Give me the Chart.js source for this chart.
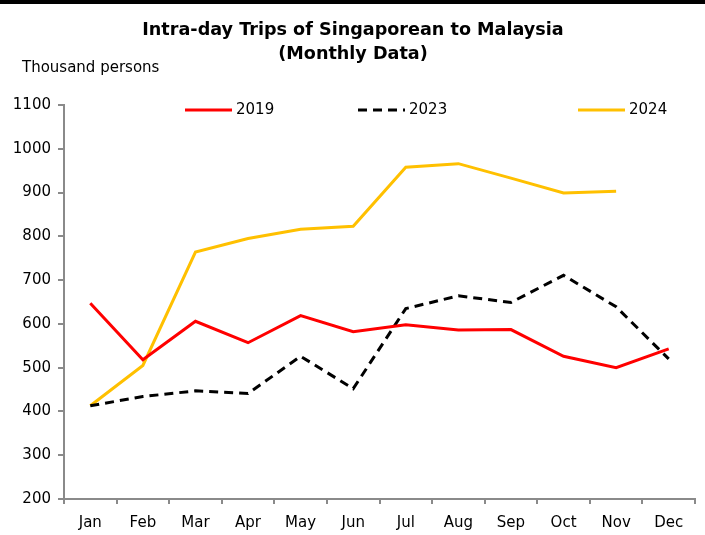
<!DOCTYPE html>
<html>
<head>
<meta charset="utf-8">
<script src="https://cdn.jsdelivr.net/npm/chart.js@4.4.0/dist/chart.umd.min.js"></script>
<style>
  html, body { margin: 0; padding: 0; background: #fff; }
  #wrap { position: relative; width: 705px; height: 535px; }
</style>
</head>
<body>
<div id="wrap"><canvas id="lineChart"></canvas></div>
<script>
// Intra-day trips of Singaporeans to Malaysia, thousand persons
const months = ['Jan', 'Feb', 'Mar', 'Apr', 'May', 'Jun', 'Jul', 'Aug', 'Sep', 'Oct', 'Nov', 'Dec'];
const trips2019 = [647, 518, 606, 557, 619, 582, 598, 586, 587, 526, 500, 543];
const trips2023 = [413, 434, 447, 441, 526, 452, 635, 664, 649, 711, 639, 520];
const trips2024 = [413, 505, 764, 795, 816, 823, 958, 966, 933, 899, 903, null];
const seriesNames = ['2019', '2023', '2024'];
const titleLines = ['Intra-day Trips of Singaporean to Malaysia', '(Monthly Data)'];
const unitLabel = 'Thousand persons';
const yMin = 200, yMax = 1100, yStep = 100;

const FONT = "'DejaVu Sans', Verdana, sans-serif";
const AXIS_GREY = '#8a8a8a';

// title, unit label, top rule and the spaced-out legend
const decorPlugin = {
  id: 'decor',
  afterDraw(chart) {
    const ctx = chart.ctx;
    ctx.save();
    // black rule across the top
    ctx.fillStyle = '#000';
    ctx.fillRect(0, 0, chart.width, 4);

    ctx.fillStyle = '#000';
    ctx.textAlign = 'center';
    ctx.textBaseline = 'middle';
    ctx.font = 'bold 17.6px ' + FONT;
    ctx.fillText(titleLines[0], 353, 30);
    ctx.fillText(titleLines[1], 353, 54);

    ctx.textAlign = 'left';
    ctx.font = '15px ' + FONT;
    ctx.fillText(unitLabel, 22, 68);

    // legend
    const startX = [185, 358, 578];
    chart.data.datasets.forEach((ds, i) => {
      const x = startX[i], y = 110;
      ctx.beginPath();
      ctx.strokeStyle = ds.borderColor;
      ctx.lineWidth = 3;
      ctx.setLineDash(ds.borderDash || []);
      ctx.moveTo(x, y);
      ctx.lineTo(x + 47, y);
      ctx.stroke();
      ctx.setLineDash([]);
      ctx.fillStyle = '#000';
      ctx.font = '15px ' + FONT;
      ctx.fillText(ds.label, x + 51, y);
    });
    ctx.restore();
  }
};

const ctx = document.getElementById('lineChart').getContext('2d');
const lineChart = new Chart(ctx, {
  type: 'line',
  data: {
    labels: months,
    datasets: [
      { label: seriesNames[0], data: trips2019, borderColor: '#ff0000', borderWidth: 3 },
      { label: seriesNames[1], data: trips2023, borderColor: '#000000', borderWidth: 3, borderDash: [9, 6] },
      { label: seriesNames[2], data: trips2024, borderColor: '#ffc000', borderWidth: 3 }
    ]
  },
  options: {
    responsive: true,
    maintainAspectRatio: false,
    animation: false,
    layout: { padding: { left: 0, top: 105, right: 10, bottom: 0 } },
    elements: {
      point: { radius: 0, hoverRadius: 0 },
      line: { tension: 0, fill: false, borderCapStyle: 'butt' }
    },
    plugins: {
      legend: { display: false },
      title: { display: false },
      tooltip: { enabled: false }
    },
    scales: {
      x: {
        offset: true,
        afterFit(scale) { scale.height = 36; },
        grid: {
          display: true,
          offset: true,
          drawOnChartArea: false,
          drawTicks: true,
          tickLength: 5,
          color: AXIS_GREY,
          lineWidth: 2
        },
        border: { display: true, color: AXIS_GREY, width: 2 },
        ticks: {
          color: '#000',
          padding: 10,
          maxRotation: 0,
          font: { family: FONT, size: 15 }
        }
      },
      y: {
        min: yMin,
        max: yMax,
        afterFit(scale) { scale.width = 64; },
        grid: {
          display: true,
          drawOnChartArea: false,
          drawTicks: true,
          tickLength: 6,
          color: AXIS_GREY,
          lineWidth: 2
        },
        border: { display: true, color: AXIS_GREY, width: 2 },
        ticks: {
          stepSize: yStep,
          color: '#000',
          padding: 7,
          font: { family: FONT, size: 15 },
          callback: (value) => String(value)
        }
      }
    }
  },
  plugins: [decorPlugin]
});
</script>
</body>
</html>
